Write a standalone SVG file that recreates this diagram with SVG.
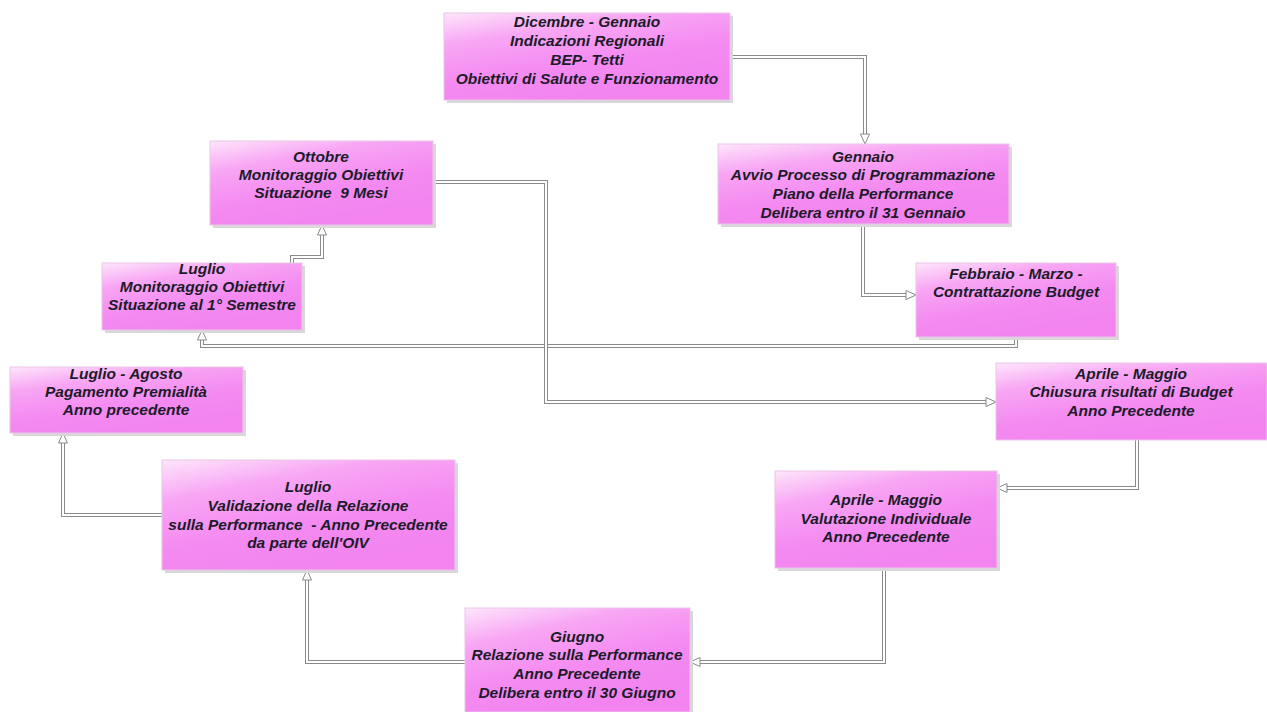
<svg xmlns="http://www.w3.org/2000/svg" width="1267" height="712" viewBox="0 0 1267 712">
<defs>
<linearGradient id="pk" x1="0" y1="0" x2="0.5" y2="1">
<stop offset="0" stop-color="#fde6fb"/>
<stop offset="0.3" stop-color="#f8a6f4"/>
<stop offset="0.65" stop-color="#f48bf1"/>
<stop offset="1" stop-color="#f283ef"/>
</linearGradient>
<marker id="ah" viewBox="0 0 12 12" refX="11" refY="6" markerWidth="12" markerHeight="12" markerUnits="userSpaceOnUse" orient="auto">
<path d="M1,1.5 L11,6 L1,10.5 Z" fill="#fff" stroke="#888" stroke-width="1"/>
</marker>
</defs>
<style>
.box{fill:url(#pk);stroke:#e9c6e8;stroke-width:1}
.sh{fill:#d8d8d8}
text{font-family:"Liberation Sans",Arial,sans-serif;font-size:15.5px;font-weight:bold;font-style:italic;fill:#1c1b2a;text-anchor:middle}
.o{fill:none;stroke:#8a8a8a;stroke-width:4}
.i{fill:none;stroke:#fff;stroke-width:2}
</style>
<rect width="1267" height="712" fill="#fff"/>
<g id="connectors">
<path class="o" d="M730,57 H865 V136"/><path class="i" d="M730,57 H865 V136"/>
<path class="o" d="M863,224 V295 H908"/><path class="i" d="M863,224 V295 H908"/>
<path class="o" d="M1016,337 V346 H202 V338"/><path class="i" d="M1016,337 V346 H202 V338"/>
<path class="o" d="M292,263 V257 H322 V233"/><path class="i" d="M292,263 V257 H322 V233"/>
<path class="o" d="M433,182 H546 V402 H988"/><path class="i" d="M433,182 H546 V402 H988"/>
<path class="o" d="M1137,440 V488 H1005"/><path class="i" d="M1137,440 V488 H1005"/>
<path class="o" d="M884,568 V662 H698"/><path class="i" d="M884,568 V662 H698"/>
<path class="o" d="M465,662 H307 V578"/><path class="i" d="M465,662 H307 V578"/>
<path class="o" d="M162,515 H63 V441"/><path class="i" d="M162,515 H63 V441"/>
<path d="M865,130 V144" fill="none" stroke="none" marker-end="url(#ah)"/>
<path d="M902,295 H916" fill="none" stroke="none" marker-end="url(#ah)"/>
<path d="M202,344 V330" fill="none" stroke="none" marker-end="url(#ah)"/>
<path d="M322,239 V225" fill="none" stroke="none" marker-end="url(#ah)"/>
<path d="M982,402 H996" fill="none" stroke="none" marker-end="url(#ah)"/>
<path d="M1011,488 H997" fill="none" stroke="none" marker-end="url(#ah)"/>
<path d="M704,662 H690" fill="none" stroke="none" marker-end="url(#ah)"/>
<path d="M307,584 V570" fill="none" stroke="none" marker-end="url(#ah)"/>
<path d="M63,447 V433" fill="none" stroke="none" marker-end="url(#ah)"/>
</g>
<g id="n1"><rect class="sh" x="447" y="16" width="286" height="87"/><rect class="box" x="444" y="13" width="286" height="87"/>
<text x="587" y="27">Dicembre - Gennaio</text><text x="587" y="46">Indicazioni Regionali</text><text x="587" y="65">BEP- Tetti</text><text x="587" y="84">Obiettivi di Salute e Funzionamento</text></g>
<g id="n2"><rect class="sh" x="213" y="144" width="223" height="84"/><rect class="box" x="210" y="141" width="223" height="84"/>
<text x="321" y="162">Ottobre</text><text x="321" y="180">Monitoraggio Obiettivi</text><text x="321" y="198" xml:space="preserve">Situazione  9 Mesi</text></g>
<g id="n3"><rect class="sh" x="721" y="147" width="291" height="80"/><rect class="box" x="718" y="144" width="291" height="80"/>
<text x="863" y="162">Gennaio</text><text x="863" y="180">Avvio Processo di Programmazione</text><text x="863" y="199">Piano della Performance</text><text x="863" y="218">Delibera entro il 31 Gennaio</text></g>
<g id="n4"><rect class="sh" x="919" y="266" width="200" height="74"/><rect class="box" x="916" y="263" width="200" height="74"/>
<text x="1016" y="279">Febbraio - Marzo -</text><text x="1016" y="297">Contrattazione Budget</text></g>
<g id="n5"><rect class="sh" x="105" y="266" width="200" height="67"/><rect class="box" x="102" y="263" width="200" height="67"/>
<text x="202" y="274">Luglio</text><text x="202" y="292">Monitoraggio Obiettivi</text><text x="202" y="310">Situazione al 1° Semestre</text></g>
<g id="n6"><rect class="sh" x="13" y="370" width="233" height="66"/><rect class="box" x="10" y="367" width="233" height="66"/>
<text x="126" y="379">Luglio - Agosto</text><text x="126" y="397">Pagamento Premialità</text><text x="126" y="415">Anno precedente</text></g>
<g id="n7"><rect class="box" x="996" y="363" width="271" height="77"/>
<text x="1131" y="379">Aprile - Maggio</text><text x="1131" y="397">Chiusura risultati di Budget</text><text x="1131" y="416">Anno Precedente</text></g>
<g id="n8"><rect class="sh" x="778" y="474" width="222" height="97"/><rect class="box" x="775" y="471" width="222" height="97"/>
<text x="886" y="505">Aprile - Maggio</text><text x="886" y="524">Valutazione Individuale</text><text x="886" y="542">Anno Precedente</text></g>
<g id="n9"><rect class="sh" x="165" y="463" width="293" height="110"/><rect class="box" x="162" y="460" width="293" height="110"/>
<text x="308" y="492">Luglio</text><text x="308" y="511">Validazione della Relazione</text><text x="308" y="530" xml:space="preserve">sulla Performance  - Anno Precedente</text><text x="308" y="548">da parte dell'OIV</text></g>
<g id="n10"><rect class="sh" x="468" y="611" width="225" height="104"/><rect class="box" x="465" y="608" width="225" height="104"/>
<text x="577" y="642">Giugno</text><text x="577" y="660">Relazione sulla Performance</text><text x="577" y="679">Anno Precedente</text><text x="577" y="698">Delibera entro il 30 Giugno</text></g>
</svg>
